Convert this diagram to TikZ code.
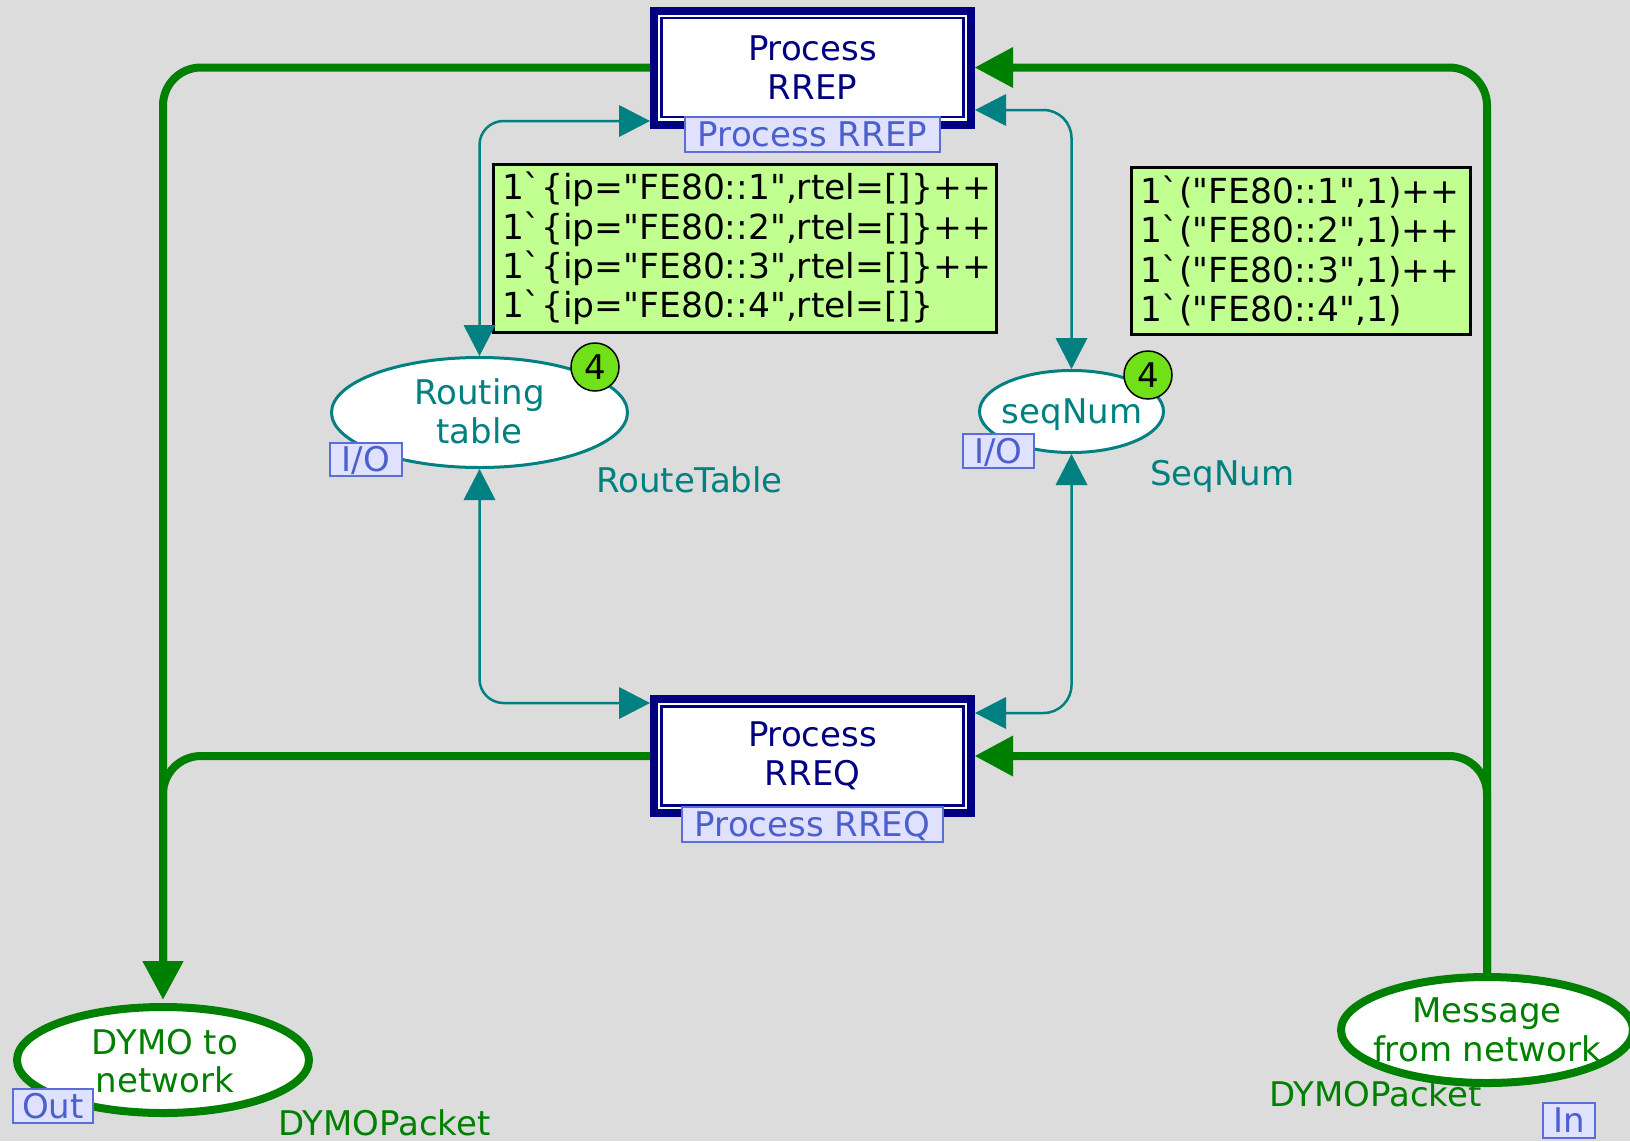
\documentclass[tikz,border=0pt]{standalone}
\usepackage{fontspec}
\setmainfont{DejaVu Sans}
\newfontfamily\insfont{DejaVu Sans}[Ligatures=TeXOff]
\usetikzlibrary{arrows.meta,shapes.geometric}

\definecolor{bgcol}{RGB}{220,220,220}
\definecolor{navyc}{RGB}{0,0,128}
\definecolor{tealc}{RGB}{0,128,128}
\definecolor{greenc}{RGB}{0,128,0}
\definecolor{tagfill}{RGB}{224,224,255}
\definecolor{tagline}{RGB}{90,110,215}
\definecolor{tagtext}{RGB}{75,95,205}
\definecolor{insfill}{RGB}{192,255,144}
\definecolor{tokfill}{RGB}{112,224,24}

\begin{document}
\begin{tikzpicture}[x=1pt,y=-1pt,
  subtrans/.style={rectangle, draw=navyc, line width=8pt, fill=white,
    minimum width=317pt, minimum height=114pt, inner sep=0pt,
    text=navyc, align=center, font=\fontsize{34}{39}\selectfont},
  cpnplace/.style={ellipse, draw=tealc, line width=3pt, fill=white, inner sep=0pt},
  portplace/.style={ellipse, draw=greenc, line width=8pt, fill=white, inner sep=0pt,
    minimum width=292pt, minimum height=106pt},
  ptext/.style={inner sep=0pt, align=center, font=\fontsize{34}{38.5}\selectfont},
  cpntag/.style={rectangle, draw=tagline, line width=1.5pt, fill=tagfill, text=tagtext,
    inner sep=0pt, text height=24pt, text depth=0pt, font=\fontsize{34}{39}\selectfont},
  typelbl/.style={inner sep=0pt, anchor=base west, font=\fontsize{34}{39}\selectfont},
  tokcount/.style={circle, draw=black, line width=1.5pt, fill=tokfill, minimum size=48pt,
    inner sep=0pt, text height=24pt, text depth=0pt, font=\fontsize{34}{40}\selectfont},
  initmark/.style={rectangle, draw=black, line width=3pt, fill=insfill,
    inner xsep=8.5pt, inner ysep=0pt, align=left,
    font=\insfont\fontsize{34.5}{39.3}\selectfont},
  garc/.style={draw=greenc, line width=8pt, rounded corners=38pt,
    -{Triangle[length=38pt,width=41pt,line width=0pt]}},
  tarc/.style={draw=tealc, line width=2.5pt,
    {Triangle[length=31pt,width=32pt,line width=0pt]}-{Triangle[length=31pt,width=32pt,line width=0pt]}},
]
\useasboundingbox (0,0) rectangle (1630,1141);
\fill[bgcol] (0,0) rectangle (1630,1141);

% substitution transitions
\node[subtrans] (rrep) at (812.5,67.5) {Process\\RREP};
\node[subtrans] (rreq) at (812.5,756) {Process\\RREQ};
\draw[navyc, line width=2.5pt] ([shift={(11.5,11.5)}]rrep.north west) rectangle ([shift={(-11.5,-11.5)}]rrep.south east);
\draw[navyc, line width=2.5pt] ([shift={(11.5,11.5)}]rreq.north west) rectangle ([shift={(-11.5,-11.5)}]rreq.south east);

% places
\node[cpnplace, minimum width=296pt, minimum height=110pt] (rt) at (479.5,412.5) {};
\node[cpnplace, minimum width=184pt, minimum height=82pt] (seq) at (1071.5,411.5) {};
\node[portplace] (dymo) at (163,1060) {};
\node[portplace] (msg) at (1487,1030) {};

% initial markings
\node[initmark, text width=486pt, minimum height=168pt] (rtinit) at (745,248.5)
  {1`\{ip="FE80::1",rtel=[]\}++\\1`\{ip="FE80::2",rtel=[]\}++\\1`\{ip="FE80::3",rtel=[]\}++\\1`\{ip="FE80::4",rtel=[]\}};
\node[initmark, text width=322pt, minimum height=167pt] (seqinit) at (1301,251)
  {1`("FE80::1",1)++\\1`("FE80::2",1)++\\1`("FE80::3",1)++\\1`("FE80::4",1)};

% arcs
\draw[garc] (rrep.west) -| ([yshift=4pt]dymo.north);
\draw[garc] (rreq.west) -| ([yshift=4pt]dymo.north);
\draw[garc] (msg.north) |- (rrep.east);
\draw[garc] (msg.north) |- (rreq.east);
\draw[tarc, rounded corners=24pt] (rt.north) |- ([yshift=-53.5pt]rrep.west);
\draw[tarc, rounded corners=28pt] (seq.north) |- ([yshift=-42.5pt]rrep.east);
\draw[tarc, rounded corners=24pt] (rt.south) |- ([yshift=53pt]rreq.west);
\draw[tarc, rounded corners=28pt] (seq.south) |- ([yshift=43pt]rreq.east);

% place names
\node[ptext, text=tealc] (rttext) at (479.5,411.5) {Routing\\table};
\node[ptext, text=tealc, anchor=base] (seqtext) at (1072,423) {seqNum};
\node[ptext, text=greenc] (dymotext) at (165,1061) {DYMO to\\network};
\node[ptext, text=greenc] (msgtext) at (1487,1030) {Message\\from network};

% token counts
\node[tokcount] (rttok) at (595,367) {4};
\node[tokcount] (seqtok) at (1148,375) {4};

% colour sets
\node[typelbl, text=tealc] (rttype) at (596,492) {RouteTable};
\node[typelbl, text=tealc] (seqtype) at (1150,485) {SeqNum};
\node[typelbl, text=greenc] (dymotype) at (278,1135.5) {DYMOPacket};
\node[typelbl, text=greenc] (msgtype) at (1269,1106) {DYMOPacket};

% tags
\node[cpntag, minimum width=255pt, minimum height=35pt] (rreptag) at (812.5,134.5) {Process RREP};
\node[cpntag, minimum width=261pt, minimum height=35pt] (rreqtag) at (812.5,824.5) {Process RREQ};
\node[cpntag, minimum width=72pt, minimum height=33pt] (rtio) at (366,459.5) {I/O};
\node[cpntag, minimum width=71pt, minimum height=34pt] (seqio) at (998.5,451) {I/O};
\node[cpntag, minimum width=80pt, minimum height=34pt] (dymoout) at (53,1106) {Out};
\node[cpntag, minimum width=52pt, minimum height=35pt] (msgin) at (1569,1120.5) {In};
\end{tikzpicture}
\end{document}
